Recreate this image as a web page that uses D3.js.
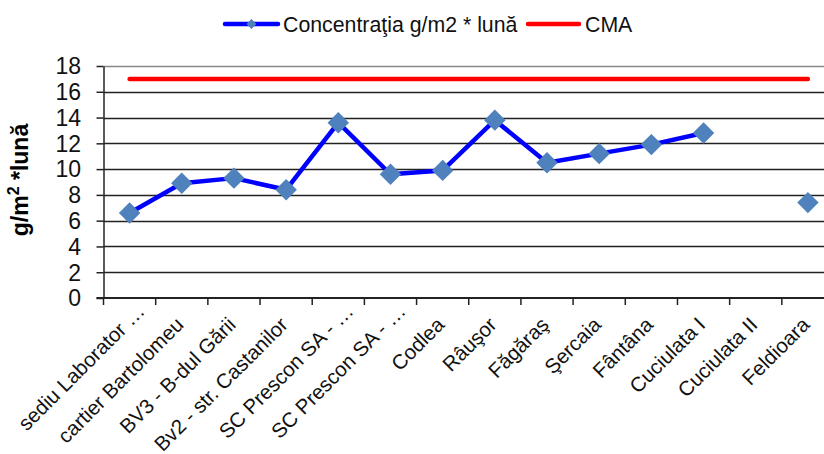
<!DOCTYPE html>
<html>
<head>
<meta charset="utf-8">
<title>Concentratia g/m2 * luna</title>
<script src="https://d3js.org/d3.v7.min.js"></script>
<style>
    body { margin: 0; background: #fff; }
    svg { display: block; font-family: "Liberation Sans", Arial, sans-serif; }
    .grid line { stroke: #222; stroke-width: 1.3px; }
    .axis path, .axis line { stroke: #222; stroke-width: 1.5px; }
    .ylabels text { font-size: 23px; fill: #111; }
    .xlabels text { font-size: 20.5px; fill: #111; }
    .legend text { font-size: 21.3px; fill: #111; }
</style>
</head>
<body>
<div id="chart"></div>
<script>
const categories = ['sediu Laborator …', 'cartier Bartolomeu', 'BV3 - B-dul Gării', 'Bv2 - str. Castanilor',
    'SC Prescon SA - …', 'SC Prescon SA - …', 'Codlea', 'Râuşor', 'Făgăraş', 'Şercaia',
    'Fântâna', 'Cuciulata I', 'Cuciulata II', 'Feldioara'];
const concentratia = [6.6, 8.9, 9.3, 8.4, 13.6, 9.6, 9.9, 13.8, 10.5, 11.2, 11.9, 12.8, null, 7.4];
const cma = [17, 17, 17, 17, 17, 17, 17, 17, 17, 17, 17, 17, 17, 17];
const yTicks = [0, 2, 4, 6, 8, 10, 12, 14, 16, 18];

const W = 824, H = 454;
const plotL = 103.5, plotR = 834, plotT = 66, plotB = 298;

const svg = d3.select('#chart').append('svg')
    .attr('width', W).attr('height', H);

const idx = d3.range(categories.length);
const x = d3.scaleBand().domain(idx).range([plotL, plotR]).padding(0);
const cx = i => x(i) + x.bandwidth() / 2;
const y = d3.scaleLinear().domain([0, 18]).range([plotB, plotT]);

// gridlines
svg.append('g').attr('class', 'grid')
    .selectAll('line').data(yTicks.filter(t => t > 0)).enter().append('line')
    .attr('x1', plotL).attr('x2', W)
    .attr('y1', d => Math.round(y(d)) + 0.5).attr('y2', d => Math.round(y(d)) + 0.5)
    .style('stroke', d => d === 18 ? '#888' : null);

// y axis
svg.append('g').attr('class', 'axis')
    .attr('transform', 'translate(' + plotL + ',0)')
    .call(d3.axisLeft(y).tickValues(yTicks).tickSize(7).tickSizeOuter(0).tickFormat(''));
const yl = svg.append('g').attr('class', 'ylabels');
yl.selectAll('text').data(yTicks).enter().append('text')
    .attr('x', 81).attr('y', d => y(d)).attr('dy', '0.36em')
    .attr('text-anchor', 'end')
    .text(d => d);

// x axis with ticks on band boundaries
const bounds = d3.range(categories.length + 1).map(i => plotL + i * x.bandwidth());
const xa = svg.append('g').attr('class', 'axis');
xa.append('line').attr('x1', plotL - 7).attr('x2', W).attr('y1', plotB).attr('y2', plotB)
    .style('stroke-width', '2px');
xa.selectAll('.tk').data(bounds).enter().append('line').attr('class', 'tk')
    .attr('x1', d => d).attr('x2', d => d).attr('y1', plotB).attr('y2', plotB + 7);

// truncated labels sit a bit further along their direction, as in the original
svg.append('g').attr('class', 'xlabels')
    .selectAll('text').data(idx).enter().append('text')
    .attr('transform', i => 'translate(' + (cx(i) + 3) + ',' + (plotB + 28) + ') rotate(-45)')
    .attr('text-anchor', 'end')
    .attr('dx', i => categories[i].endsWith('…') ? 19 : 0)
    .text(i => categories[i]);

// y title
svg.append('text')
    .attr('transform', 'translate(28,180) rotate(-90)')
    .attr('text-anchor', 'middle')
    .style('font-size', '23px').style('font-weight', 'bold')
    .call(t => {
        t.append('tspan').text('g/m');
        t.append('tspan').text('2').attr('dy', -9).style('font-size', '16px');
        t.append('tspan').text(' *lună').attr('dy', 9);
    });

// CMA line
const line = d3.line().defined(d => d != null).x((d, i) => cx(i)).y(d => y(d));
svg.append('path').datum(cma)
    .attr('d', line).attr('fill', 'none')
    .attr('stroke', '#ff0000').attr('stroke-width', 4.5).attr('stroke-linecap', 'round');

// concentration line
svg.append('path').datum(concentratia)
    .attr('d', line).attr('fill', 'none')
    .attr('stroke', '#0000ff').attr('stroke-width', 4.5).attr('stroke-linejoin', 'round');

const diamond = d3.symbol().type(d3.symbolSquare).size(230);
svg.append('g').selectAll('path')
    .data(idx.filter(i => concentratia[i] != null)).enter().append('path')
    .attr('transform', i => 'translate(' + cx(i) + ',' + y(concentratia[i]) + ') rotate(45)')
    .attr('d', diamond).attr('fill', '#4f81bd');

// legend
const lg = svg.append('g').attr('class', 'legend');
lg.append('line').attr('x1', 225).attr('x2', 278).attr('y1', 24).attr('y2', 24)
    .attr('stroke', '#0000ff').attr('stroke-width', 4.5).attr('stroke-linecap', 'round');
lg.append('path').attr('transform', 'translate(251.5,24) rotate(45)')
    .attr('d', d3.symbol().type(d3.symbolSquare).size(50)).attr('fill', '#4f81bd');
lg.append('text').attr('x', 283).attr('y', 24).attr('dy', '0.36em').text('Concentraţia g/m2 * lună');
lg.append('line').attr('x1', 528).attr('x2', 579).attr('y1', 24).attr('y2', 24)
    .attr('stroke', '#ff0000').attr('stroke-width', 4.5).attr('stroke-linecap', 'round');
lg.append('text').attr('x', 585).attr('y', 24).attr('dy', '0.36em').text('CMA');
</script>
</body>
</html>
